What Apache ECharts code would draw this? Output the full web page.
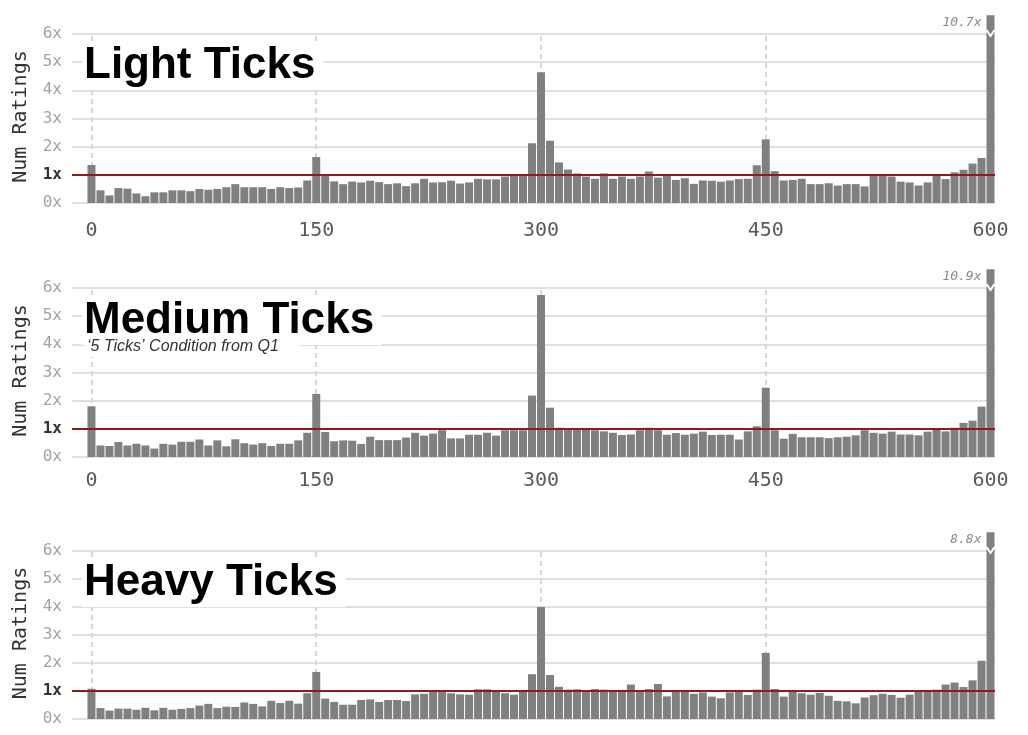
<!DOCTYPE html>
<html><head><meta charset="utf-8">
<script src="https://cdn.jsdelivr.net/npm/echarts@6/dist/echarts.min.js"></script>
<style>html,body{margin:0;padding:0;background:#fff}#c{width:1028px;height:735px}</style>
</head><body><div id="c"></div>
<script>
// ---- data ----
const BIN_WIDTH = 6;
const binCenters = Array.from({length: 101}, (_, i) => i * BIN_WIDTH);
const lightTicks = [
 1.35,0.45,0.27,0.53,0.51,0.34,0.24,0.38,0.38,0.45,
 0.45,0.42,0.50,0.47,0.50,0.56,0.67,0.56,0.56,0.56,
 0.50,0.56,0.53,0.55,0.80,1.63,1.00,0.77,0.67,0.76,
 0.73,0.79,0.74,0.67,0.70,0.60,0.70,0.86,0.73,0.74,
 0.79,0.69,0.73,0.86,0.84,0.84,0.94,0.96,0.96,2.12,
 4.64,2.21,1.44,1.19,1.05,0.94,0.86,1.05,0.86,0.94,
 0.86,0.94,1.12,0.90,1.00,0.82,0.88,0.68,0.80,0.79,
 0.76,0.80,0.85,0.86,1.34,2.26,1.13,0.80,0.82,0.86,
 0.67,0.67,0.70,0.62,0.67,0.67,0.59,1.00,1.02,0.94,
 0.76,0.73,0.62,0.73,0.98,0.85,1.09,1.18,1.40,1.60,
 10.7];
const mediumTicks = [
 1.80,0.41,0.39,0.53,0.41,0.47,0.41,0.30,0.47,0.44,
 0.54,0.54,0.62,0.41,0.59,0.38,0.63,0.49,0.44,0.49,
 0.39,0.47,0.47,0.59,0.86,2.24,0.89,0.56,0.59,0.58,
 0.46,0.72,0.60,0.60,0.60,0.69,0.86,0.76,0.83,0.95,
 0.66,0.66,0.79,0.79,0.86,0.76,0.95,0.95,0.95,2.18,
 5.75,1.75,1.04,0.97,0.97,0.97,0.95,0.91,0.86,0.78,
 0.80,0.95,1.04,0.95,0.79,0.85,0.79,0.83,0.90,0.78,
 0.79,0.79,0.62,0.91,1.09,2.46,0.95,0.65,0.82,0.70,
 0.70,0.70,0.67,0.70,0.72,0.77,0.95,0.86,0.83,0.90,
 0.80,0.80,0.77,0.90,0.97,0.91,1.04,1.21,1.29,1.79,
 10.9];
const heavyTicks = [
 1.08,0.39,0.30,0.37,0.37,0.33,0.40,0.31,0.40,0.33,
 0.36,0.39,0.48,0.54,0.39,0.44,0.43,0.59,0.54,0.45,
 0.65,0.57,0.65,0.55,0.92,1.68,0.73,0.61,0.51,0.51,
 0.68,0.70,0.61,0.68,0.68,0.64,0.88,0.90,0.98,0.98,
 0.92,0.88,0.87,1.06,1.06,0.98,0.92,0.87,0.98,1.60,
 4.00,1.57,1.15,1.05,1.06,0.98,1.07,1.05,0.98,1.04,
 1.23,0.98,1.07,1.25,0.81,0.98,0.98,0.90,0.95,0.80,
 0.74,0.95,1.04,0.86,1.05,2.36,1.07,0.80,0.98,0.92,
 0.87,0.93,0.83,0.65,0.63,0.56,0.77,0.85,0.90,0.86,
 0.76,0.87,0.98,0.98,1.05,1.23,1.30,1.14,1.38,2.08,
 8.8];
const panelTitles = ['Light Ticks', 'Medium Ticks', 'Heavy Ticks'];
const panelSubtitles = ['', '‘5 Ticks’ Condition from Q1', ''];
const xTickValues = [0, 150, 300, 450, 600];
const yTickValues = [0, 1, 2, 3, 4, 5, 6];
const referenceLevel = 1;
const yAxisName = 'Num Ratings';

// ---- layout / style ----
const Y_MAX = 6;
const OVERFLOW_TOP = 6.67;
const X_MIN = -13, X_MAX = 603;
const panels = [
  {top: 34,  height: 169, labelMargin: 18, showX: true,  titleY: 66,  values: lightTicks},
  {top: 288, height: 169, labelMargin: 14, showX: true,  titleY: 321, values: mediumTicks},
  {top: 551, height: 168, labelMargin: 20, showX: false, titleY: 583, values: heavyTicks}
];
const BAR_COLOR = '#808080';
const GRID_COLOR = '#e0e0e0';
const RED = '#8e1c1c';

function renderBar(params, api) {
  const x = api.value(0), v = api.value(1);
  const shown = Math.min(v, OVERFLOW_TOP);
  const bl = api.coord([x - BIN_WIDTH / 2, 0]);
  const tr = api.coord([x + BIN_WIDTH / 2, shown]);
  const left = bl[0] + 0.5, right = tr[0] - 0.5;
  const children = [{
    type: 'rect',
    shape: {x: left, y: tr[1], width: right - left, height: bl[1] - tr[1]},
    style: {fill: BAR_COLOR}
  }];
  if (v > Y_MAX) {
    const c = api.coord([x, Y_MAX]);
    children.push({
      type: 'polyline',
      shape: {points: [[left, c[1] - 4], [(left + right) / 2, c[1] + 2], [right, c[1] - 4]]},
      style: {stroke: '#fff', lineWidth: 2, fill: null}
    });
    children.push({
      type: 'text', x: left - 5, y: tr[1] + 7,
      style: {text: v.toFixed(1) + 'x', font: 'italic 13px "DejaVu Sans Mono"', fill: '#8a8a8a',
              align: 'right', verticalAlign: 'middle'}
    });
  }
  return {type: 'group', children};
}

const grids = [], xAxes = [], yAxes = [], series = [], graphics = [];
panels.forEach((p, i) => {
  grids.push({left: 72, right: 33, top: p.top, height: p.height, containLabel: false});
  xAxes.push({
    type: 'value', gridIndex: i, min: X_MIN, max: X_MAX,
    axisLine: {show: false}, axisTick: {show: false}, splitLine: {show: false},
    axisLabel: {show: p.showX, customValues: xTickValues, margin: p.labelMargin,
                fontFamily: 'DejaVu Sans Mono', fontSize: 20, color: '#5a5a5a'}
  });
  yAxes.push({
    type: 'value', gridIndex: i, min: 0, max: Y_MAX, interval: 1,
    axisLine: {show: false}, axisTick: {show: false},
    splitLine: {show: true, lineStyle: {color: GRID_COLOR, width: 2}},
    axisLabel: {
      margin: 10,
      formatter: v => (v === referenceLevel ? '{ref|' + v + 'x}' : '{n|' + v + 'x}'),
      rich: {
        n: {fontFamily: 'DejaVu Sans Mono', fontSize: 16, color: '#a3a3a3'},
        ref: {fontFamily: 'DejaVu Sans Mono', fontSize: 16, color: '#333', fontWeight: 'bold'}
      }
    }
  });
  // dashed vertical guide lines (behind bars)
  series.push({
    type: 'line', xAxisIndex: i, yAxisIndex: i, data: [], silent: true,
    markLine: {
      silent: true, symbol: 'none', z: 1, animation: false,
      label: {show: false},
      lineStyle: {color: '#d8d8d8', type: [5, 4], width: 2},
      data: xTickValues.map(v => ({xAxis: v}))
    }
  });
  series.push({
    type: 'custom', xAxisIndex: i, yAxisIndex: i, clip: false, z: 2,
    renderItem: renderBar,
    encode: {x: 0, y: 1},
    data: binCenters.map((x, k) => [x, p.values[k]])
  });
  // reference line at 1x (in front of bars)
  series.push({
    type: 'line', xAxisIndex: i, yAxisIndex: i, data: [], silent: true,
    markLine: {
      silent: true, symbol: 'none', z: 6, animation: false,
      label: {show: false},
      lineStyle: {color: RED, type: 'solid', width: 2},
      data: [{yAxis: referenceLevel}]
    }
  });
  graphics.push({
    type: 'text', x: 82, y: p.titleY, z: 50,
    style: {text: panelTitles[i], font: 'bold 44px "Liberation Sans"', fill: '#000',
            backgroundColor: '#fff', padding: [2, 8, 2, 2], align: 'left', verticalAlign: 'middle'}
  });
  if (panelSubtitles[i]) {
    graphics.push({
      type: 'text', x: 85, y: p.titleY + 26, z: 50,
      style: {text: panelSubtitles[i], font: 'italic 16px "Liberation Sans"', fill: '#333',
              backgroundColor: '#fff', padding: [2, 20, 2, 2], align: 'left', verticalAlign: 'middle'}
    });
  }
  graphics.push({
    type: 'text', x: 21, y: p.top + p.height / 2 - 2, rotation: Math.PI / 2, z: 50,
    style: {text: yAxisName, font: '20px "DejaVu Sans Mono"', fill: '#333',
            align: 'center', verticalAlign: 'middle'}
  });
});

const chart = echarts.init(document.getElementById('c'), null, {renderer: 'canvas'});
chart.setOption({
  backgroundColor: '#fff',
  animation: false,
  grid: grids, xAxis: xAxes, yAxis: yAxes, series: series,
  graphic: {elements: graphics}
});
</script></body></html>
